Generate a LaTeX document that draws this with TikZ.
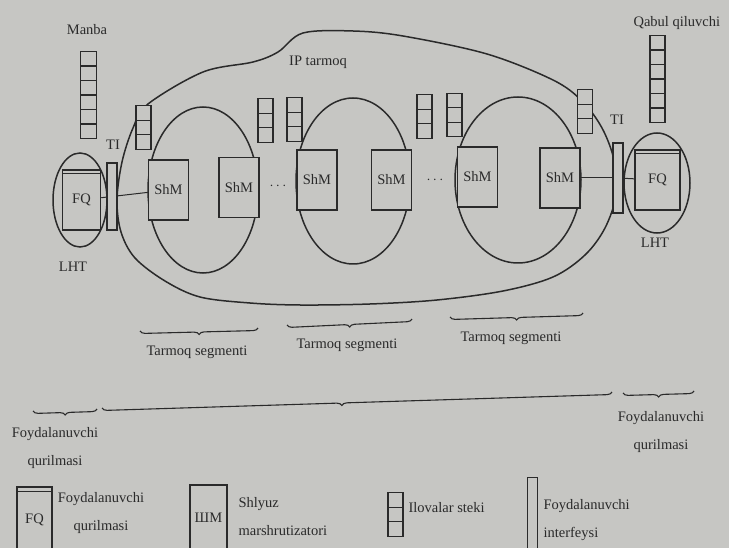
\documentclass[tikz,border=0pt]{standalone}
\usepackage{fontspec}
\setmainfont{Liberation Serif}
\usetikzlibrary{shapes.geometric,decorations.pathreplacing}

\definecolor{paper}{RGB}{198,198,195}
\definecolor{ink}{RGB}{42,42,42}

\begin{document}
\begin{tikzpicture}[x=1pt,y=-1pt,
  every node/.style={text=ink, font=\fontsize{14.5}{17}\selectfont},
  line/.style={draw=ink, line width=1.5pt},
  link/.style={draw=ink, line width=1pt},
  shm/.style={line, fill=paper, minimum width=40pt, minimum height=60pt, inner sep=0pt},
  fqbox/.style={line, fill=paper, minimum width=#1, minimum height=60pt, inner sep=0pt,
    path picture={\draw[ink, line width=1pt]
      ([yshift=-4pt]path picture bounding box.north west) --
      ([yshift=-4pt]path picture bounding box.north east);}},
  cellstack/.style={line, line width=1.2pt, fill=paper, minimum width=15pt,
    minimum height=#1*14.5pt, inner sep=0pt,
    path picture={\foreach \k in {1,...,#1}{\draw[ink, line width=1.2pt]
      ([yshift=-\k*14.5pt]path picture bounding box.north west) --
      ([yshift=-\k*14.5pt]path picture bounding box.north east);}}},
  ifbar/.style={line, line width=1.3pt, fill=paper, minimum width=10pt,
    minimum height=#1, inner sep=0pt},
  segell/.style={line, ellipse, inner sep=0pt},
  brc/.style={draw=ink, line width=1.1pt, decorate,
    decoration={brace, mirror, amplitude=5pt}},
  twoline/.style={font=\fontsize{14.5}{28}\selectfont}
]
% page and background
\clip (0,0) rectangle (729,548);
\fill[paper] (0,0) rectangle (729,548);

% IP network cloud
\draw[line] plot[smooth cycle, tension=0.55] coordinates {
  (148,104) (203,72) (253,62) (278,52) (303,33) (353,31) (403,36)
  (487,54) (553,80) (582,101) (602,128) (614,160) (616,195) (605,228)
  (585,255) (553,277) (503,291) (437,300) (370,304) (300,305) (250,303)
  (200,297) (165,281) (135,258) (121,232) (117,200) (122,162) (133,128)};
\node (ipt) at (318,62) {IP tarmoq};

% network segments
\node[segell, minimum width=110pt, minimum height=166pt] (seg1) at (203,190) {};
\node[segell, minimum width=114pt, minimum height=166pt] (seg2) at (353,181) {};
\node[segell, minimum width=126pt, minimum height=166pt] (seg3) at (518,180) {};

% end hosts
\node[segell, minimum width=54pt, minimum height=94pt] (hostL) at (80,200) {};
\node[segell, minimum width=66pt, minimum height=100pt] (hostR) at (657,183) {};

% user devices, interfaces, gateways
\node[fqbox=38pt] (fqL) at (81.5,200) {FQ};
\node[fqbox=45pt] (fqR) at (657.5,180) {FQ};
\node[ifbar=67pt] (barL) at (112,196.5) {};
\node[ifbar=70pt] (barR) at (618,178) {};

\node[shm] (b1) at (168.5,190) {ShM};
\node[shm] (b2) at (239,187.5) {ShM};
\node[shm] (b3) at (317,180) {ShM};
\node[shm] (b4) at (391.5,180) {ShM};
\node[shm] (b5) at (477.5,177) {ShM};
\node[shm] (b6) at (560,178) {ShM};

\draw[link] (fqL) -- (barL);
\draw[link] (barL) -- (b1);
\draw[link] (b6) -- (barR);
\draw[link] (barR) -- (fqR);

\node (dots1) at (278,186) {$\cdots$};
\node (dots2) at (435,180) {$\cdots$};

% protocol stacks
\node[cellstack=6, minimum width=16pt] (stSrc) at (88.5,95) {};
\node[cellstack=6] (stDst) at (657.5,79) {};
\node[cellstack=3] (sL) at (143.5,127.5) {};
\node[cellstack=3] (sA) at (265.5,120.5) {};
\node[cellstack=3] (sB) at (294.5,119.5) {};
\node[cellstack=3] (sC) at (424.5,116.5) {};
\node[cellstack=3] (sD) at (454.5,115) {};
\node[cellstack=3] (sR) at (585,111.5) {};

% labels
\node (manba) at (87,30) {Manba};
\node[anchor=west] (qabul) at (630,23) {Qabul qiluvchi};
\node (tiL) at (113,145) {TI};
\node (tiR) at (617,120) {TI};
\node (lhtL) at (73,267) {LHT};
\node (lhtR) at (655,243) {LHT};

% segment braces
\coordinate (s1a) at (140,331); \coordinate (s1b) at (258,328);
\coordinate (s2a) at (287,325); \coordinate (s2b) at (412,319);
\coordinate (s3a) at (450,317); \coordinate (s3b) at (583,313);
\draw[brc] (s1a) -- (s1b);
\draw[brc] (s2a) -- (s2b);
\draw[brc] (s3a) -- (s3b);
\node (tl1) at (197,352) {Tarmoq segmenti};
\node (tl2) at (347,345) {Tarmoq segmenti};
\node (tl3) at (511,338) {Tarmoq segmenti};

% end-to-end braces
\coordinate (ua) at (33,411);  \coordinate (ub) at (97,409);
\coordinate (na) at (102,408); \coordinate (nb) at (612,392);
\coordinate (va) at (623,393); \coordinate (vb) at (694,391);
\draw[brc] (ua) -- (ub);
\draw[brc, decoration={aspect=0.47}] (na) -- (nb);
\draw[brc] (va) -- (vb);
\node[twoline, align=center] (devL) at (55,448) {Foydalanuvchi\\qurilmasi};
\node[twoline, align=center] (devR) at (661,432) {Foydalanuvchi\\qurilmasi};

% legend
\node[fqbox=35pt, minimum height=66pt] (lgfq) at (34.5,520) {FQ};
\node[twoline, align=center] (lgfqt) at (101,513) {Foydalanuvchi\\qurilmasi};
\node[shm, minimum width=37pt, minimum height=66pt] (lgshm) at (208.5,518) {ШМ};
\node[twoline, align=left, anchor=west] (lgshmt) at (235,517) {Shlyuz\\marshrutizatori};
\node[cellstack=3] (lgst) at (395.5,514.5) {};
\node[anchor=west] (lgstt) at (405,508) {Ilovalar steki};
\node[ifbar=75pt] (lgbar) at (532.5,515) {};
\node[twoline, align=left, anchor=west] (lgbart) at (540,520) {Foydalanuvchi\\interfeysi};
\end{tikzpicture}
\end{document}
